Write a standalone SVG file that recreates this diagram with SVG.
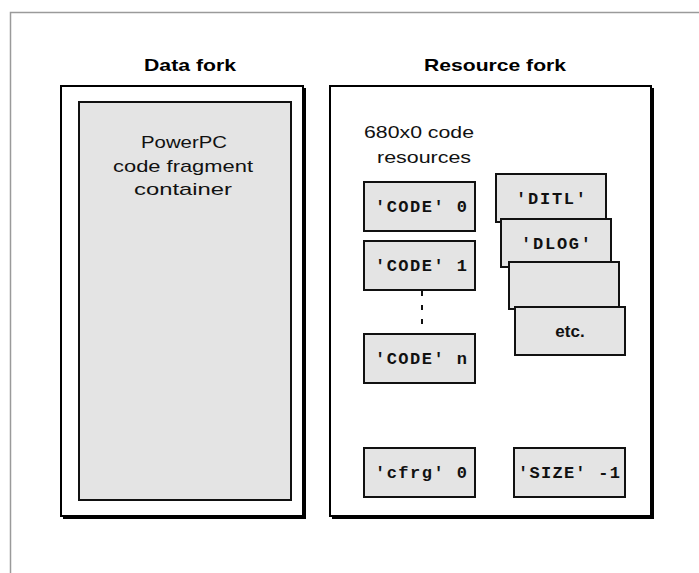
<svg xmlns="http://www.w3.org/2000/svg" width="699" height="573" viewBox="0 0 699 573">
  <style>
    .frame { fill: none; stroke: #9a9a9a; stroke-width: 1.5; }
    .fork { fill: #ffffff; stroke: #000000; stroke-width: 2; }
    .shadow { fill: #000000; }
    .res { fill: #e4e4e4; stroke: #111111; stroke-width: 2; }
    .head { font-family: "Liberation Sans", Arial, sans-serif; font-weight: bold; font-size: 17px; fill: #000; text-anchor: middle; }
    .label { font-family: "Liberation Sans", Arial, sans-serif; font-size: 17px; fill: #111; text-anchor: middle; }
    .mono { font-family: "Liberation Mono", "Courier New", monospace; font-size: 17px; font-weight: bold; fill: #111; text-anchor: middle; }
    .dots { stroke: #111; stroke-width: 2; stroke-dasharray: 5 9; fill: none; }
  </style>

  <rect x="0" y="0" width="699" height="573" fill="#ffffff"/>
  <!-- page frame -->
  <path class="frame" d="M10.5,580 V12.5 H710"/>

  <!-- data fork -->
  <g id="data-fork">
    <text class="head" x="190" y="71" textLength="92" lengthAdjust="spacingAndGlyphs">Data fork</text>
    <rect class="shadow" x="63" y="88" width="243" height="431"/>
    <rect class="fork" x="61" y="86" width="242" height="430"/>
    <rect class="res" x="79" y="102" width="212" height="398"/>
    <text class="label" x="184" y="148" textLength="86" lengthAdjust="spacingAndGlyphs">PowerPC</text>
    <text class="label" x="183" y="172" textLength="140" lengthAdjust="spacingAndGlyphs">code fragment</text>
    <text class="label" x="183" y="195" textLength="98" lengthAdjust="spacingAndGlyphs">container</text>
  </g>

  <!-- resource fork -->
  <g id="resource-fork">
    <text class="head" x="495" y="71" textLength="142" lengthAdjust="spacingAndGlyphs">Resource fork</text>
    <rect class="shadow" x="332" y="88" width="322" height="431"/>
    <rect class="fork" x="330" y="86" width="321" height="430"/>
    <text class="label" x="419" y="138" textLength="110" lengthAdjust="spacingAndGlyphs">680x0 code</text>
    <text class="label" x="424" y="163" textLength="94" lengthAdjust="spacingAndGlyphs">resources</text>
  </g>

  <!-- connectors -->
  <g id="connectors">
    <line class="dots" x1="422" y1="291" x2="422" y2="333"/>
  </g>

  <g id="code-0">
    <rect class="res" x="364" y="182" width="111" height="49"/>
    <text class="mono" x="421" y="212" textLength="92" lengthAdjust="spacing">'CODE' 0</text>
  </g>
  <g id="code-1">
    <rect class="res" x="364" y="241" width="111" height="49"/>
    <text class="mono" x="421" y="271" textLength="92" lengthAdjust="spacing">'CODE' 1</text>
  </g>
  <g id="code-n">
    <rect class="res" x="364" y="334" width="111" height="49"/>
    <text class="mono" x="421" y="364" textLength="92" lengthAdjust="spacing">'CODE' n</text>
  </g>
  <g id="cfrg-0">
    <rect class="res" x="364" y="448" width="111" height="49"/>
    <text class="mono" x="421" y="478" textLength="92" lengthAdjust="spacing">'cfrg' 0</text>
  </g>
  <g id="size-1">
    <rect class="res" x="514" y="448" width="111" height="49"/>
    <text class="mono" x="569" y="478" textLength="102" lengthAdjust="spacing">'SIZE' -1</text>
  </g>

  <!-- stacked resources -->
  <g id="ditl">
    <rect class="res" x="496" y="174" width="110" height="48"/>
    <text class="mono" x="551" y="204" textLength="70" lengthAdjust="spacing">'DITL'</text>
  </g>
  <g id="dlog">
    <rect class="res" x="501" y="219" width="110" height="48"/>
    <text class="mono" x="556" y="249" textLength="70" lengthAdjust="spacing">'DLOG'</text>
  </g>
  <g id="blank">
    <rect class="res" x="509" y="262" width="110" height="47"/>
  </g>
  <g id="etc">
    <rect class="res" x="515" y="307" width="110" height="48"/>
    <text class="label" x="570" y="337" font-weight="bold">etc.</text>
  </g>
</svg>
